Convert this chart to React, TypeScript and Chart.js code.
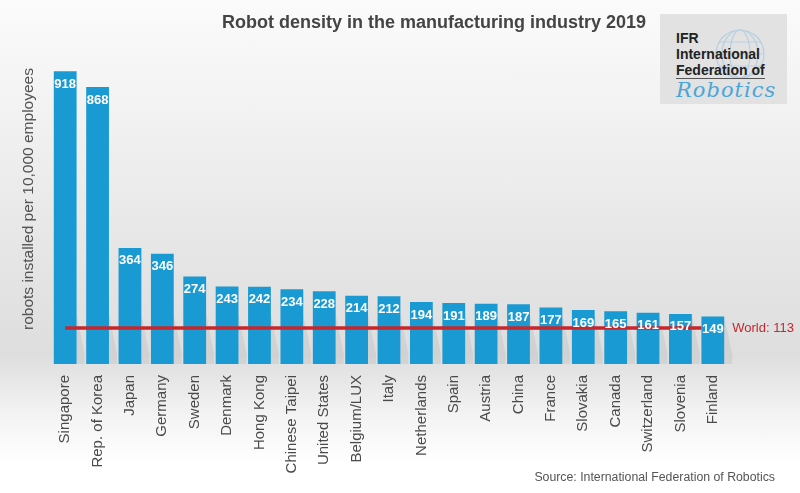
import React, { useEffect, useRef } from "react";
import { Chart, registerables } from "chart.js";

Chart.register(...registerables);

const countries = [
  "Singapore", "Rep. of Korea", "Japan", "Germany", "Sweden", "Denmark", "Hong Kong",
  "Chinese Taipei", "United States", "Belgium/LUX", "Italy", "Netherlands", "Spain",
  "Austria", "China", "France", "Slovakia", "Canada", "Switzerland", "Slovenia", "Finland",
];
const density = [918, 868, 364, 346, 274, 243, 242, 234, 228, 214, 212, 194, 191, 189, 187, 177, 169, 165, 161, 157, 149];
const WORLD_AVG = 113;
const WORLD_LABEL = "World: 113";
const TITLE = "Robot density in the manufacturing industry 2019";
const Y_LABEL = "robots installed per 10,000 employees";
const SOURCE = "Source: International Federation of Robotics";

const FONT = "'Liberation Sans', Arial, sans-serif";
const BAR_COLOR = "#1a9ad2";
const RED = "#c8262d";

const overlayPlugin = {
  id: "overlay",
  beforeDatasetsDraw(chart: any) {
    const ctx = chart.ctx;
    const meta = chart.getDatasetMeta(0);
    ctx.save();
    ctx.fillStyle = "rgba(120,120,120,0.13)";
    meta.data.forEach((bar: any) => {
      const w = bar.width;
      const left = bar.x - w / 2;
      const bottom = bar.base;
      const h = Math.min(bottom - bar.y, 50);
      ctx.beginPath();
      ctx.moveTo(left + 4, bottom);
      ctx.lineTo(left + w + 8, bottom);
      ctx.lineTo(left + w + 8, bottom - h * 0.2);
      ctx.lineTo(left + w, bottom - h);
      ctx.lineTo(left + w, bottom);
      ctx.closePath();
      ctx.fill();
    });
    ctx.restore();
  },
  afterDatasetsDraw(chart: any) {
    const ctx = chart.ctx;
    const meta = chart.getDatasetMeta(0);
    const y = chart.scales.y.getPixelForValue(WORLD_AVG);
    const first = meta.data[0];
    const last = meta.data[meta.data.length - 1];
    ctx.save();
    ctx.strokeStyle = RED;
    ctx.lineWidth = 3.5;
    ctx.beginPath();
    ctx.moveTo(first.x, y);
    ctx.lineTo(last.x - last.width / 2, y);
    ctx.stroke();

    ctx.fillStyle = RED;
    ctx.font = `13px ${FONT}`;
    ctx.textAlign = "left";
    ctx.textBaseline = "middle";
    ctx.fillText(WORLD_LABEL, last.x + last.width / 2 + 8, y);

    ctx.fillStyle = "#ffffff";
    ctx.font = `bold 13px ${FONT}`;
    ctx.textAlign = "center";
    meta.data.forEach((bar: any, i: number) => {
      ctx.fillText(String(density[i]), bar.x, bar.y + 13);
    });
    ctx.restore();
  },
};

export default function App() {
  const ref = useRef<HTMLCanvasElement>(null);
  useEffect(() => {
    if (!ref.current) return;
    const chart = new Chart(ref.current, {
      type: "bar",
      data: {
        labels: countries,
        datasets: [
          {
            data: density,
            backgroundColor: BAR_COLOR,
            barPercentage: 0.8,
            categoryPercentage: 0.88,
          },
        ],
      },
      options: {
        animation: false,
        responsive: false,
        layout: { padding: { left: 49, right: 71, top: 45, bottom: 0 } },
        plugins: { legend: { display: false }, tooltip: { enabled: false }, title: { display: false } },
        scales: {
          y: { display: false, min: 0, max: 1000 },
          x: {
            grid: { display: false },
            border: { display: false },
            ticks: {
              minRotation: 90,
              maxRotation: 90,
              autoSkip: false,
              padding: 3,
              color: "#4a4a4a",
              font: { family: FONT, size: 15 },
            },
            afterFit: (scale: any) => {
              scale.height = 129;
            },
          },
        },
      },
      plugins: [overlayPlugin],
    });
    return () => chart.destroy();
  }, []);

  return (
    <div
      style={{
        position: "fixed",
        left: 0,
        top: 0,
        width: 800,
        height: 493,
        overflow: "hidden",
        background:
          "linear-gradient(to bottom, #fbfbfb 0%, #f1f1f1 25%, #e4e4e4 55%, #dedede 72%, #f3f3f3 84%, #ffffff 94%)",
        fontFamily: FONT,
      }}
    >
      <canvas ref={ref} width={800} height={493} style={{ position: "absolute", left: 0, top: 0 }} />
      <div
        style={{
          position: "absolute",
          left: 0,
          width: 868,
          top: 12,
          textAlign: "center",
          fontSize: 18,
          fontWeight: "bold",
          color: "#444",
        }}
      >
        {TITLE}
      </div>
      <div
        style={{
          position: "absolute",
          left: 28,
          top: 199,
          transform: "translate(-50%, -50%) rotate(-90deg)",
          whiteSpace: "nowrap",
          fontSize: 15.5,
          fontWeight: "normal",
          color: "#505050",
        }}
      >
        {Y_LABEL}
      </div>
      <div
        style={{
          position: "absolute",
          right: 25,
          top: 470,
          fontSize: 12.3,
          color: "#555",
          whiteSpace: "nowrap",
        }}
      >
        {SOURCE}
      </div>
      <div
        style={{
          position: "absolute",
          left: 660,
          top: 14,
          width: 127,
          height: 90,
          background: "#e2e2e2",
          boxSizing: "border-box",
          padding: "16px 0 0 16px",
          overflow: "hidden",
        }}
      >
        <svg width={80} height={80} style={{ position: "absolute", left: 40, top: 8 }} viewBox="0 0 80 80">
          <g fill="none" stroke="#b9cfe0" strokeWidth={1.2}>
            <circle cx={40} cy={32} r={24} />
            <ellipse cx={40} cy={32} rx={10} ry={24} />
            <ellipse cx={40} cy={32} rx={18} ry={24} />
            <line x1={16} y1={32} x2={64} y2={32} />
            <line x1={19} y1={20} x2={61} y2={20} />
            <line x1={19} y1={44} x2={61} y2={44} />
          </g>
        </svg>
        <div style={{ position: "relative", fontSize: 14, fontWeight: "bold", color: "#222", lineHeight: "16px" }}>
          IFR
          <br />
          International
          <br />
          <span style={{ borderBottom: "1px solid #555" }}>Federation of</span>
        </div>
        <div
          style={{
            position: "relative",
            fontSize: 21,
            fontStyle: "italic",
            color: "#4aa6d8",
            fontFamily: "'DejaVu Serif', serif",
            lineHeight: "22px",
            marginTop: 1,
            letterSpacing: 1,
          }}
        >
          Robotics
        </div>
      </div>
    </div>
  );
}
